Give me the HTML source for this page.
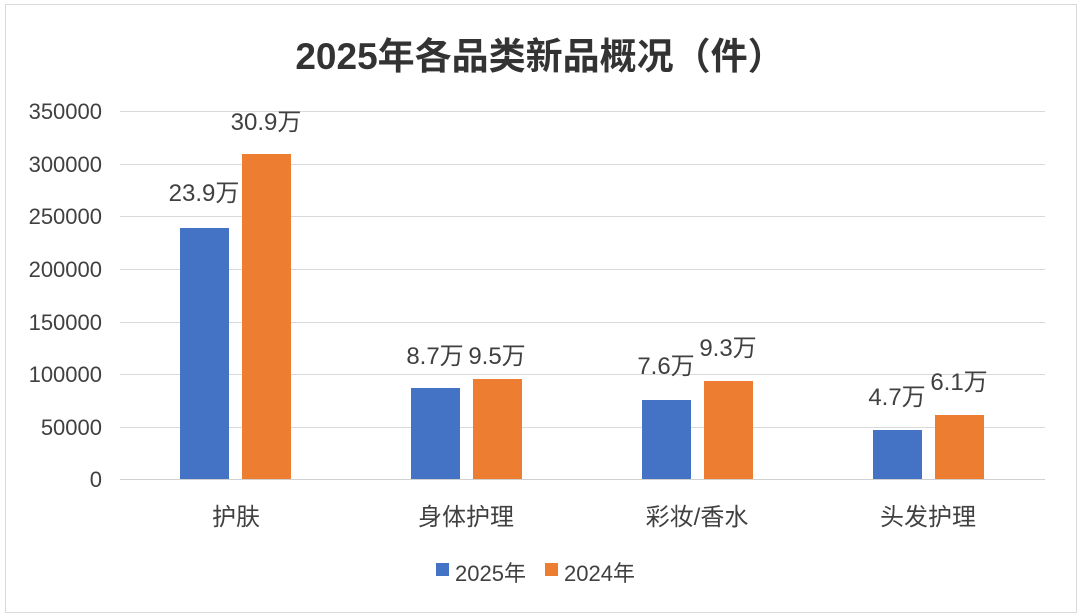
<!DOCTYPE html>
<html><head><meta charset="utf-8"><style>
body{margin:0;width:1080px;height:616px;background:#fff;position:relative;overflow:hidden;font-family:"Liberation Sans","Noto Sans CJK SC",sans-serif;color:#404040}
.a{position:absolute}
.g{position:absolute;left:120px;width:925px;height:1px;background:#d9d9d9}
.yl{position:absolute;right:978px;font-size:22px;line-height:20px;text-align:right}
.b{position:absolute;width:49px}
.bl{background:#4472c4}.or{background:#ed7d31}
.dl{position:absolute;font-size:24px;line-height:24px;width:120px;text-align:center}
.xl{position:absolute;font-size:24px;width:200px;text-align:center;top:497px}
</style></head><body>
<div class="a" style="left:5px;top:4px;width:1070px;height:607px;border:1.5px solid #d9d9d9"></div>
<div class="a" style="left:0;width:1080px;top:26px;text-align:center;font-size:37px;font-weight:bold;color:#333">2025年各品类新品概况（件）</div>
<div class="g" style="top:111px"></div><div class="g" style="top:164px"></div><div class="g" style="top:216px"></div><div class="g" style="top:269px"></div><div class="g" style="top:322px"></div><div class="g" style="top:374px"></div><div class="g" style="top:427px"></div><div class="g" style="top:479px;background:#d0d0d0"></div>
<div class="yl" style="top:102px">350000</div><div class="yl" style="top:155px">300000</div><div class="yl" style="top:207px">250000</div><div class="yl" style="top:260px">200000</div><div class="yl" style="top:313px">150000</div><div class="yl" style="top:365px">100000</div><div class="yl" style="top:418px">50000</div><div class="yl" style="top:470px">0</div>
<div class="b bl" style="left:180px;top:228px;height:251px"></div>
<div class="b or" style="left:242px;top:154px;height:325px"></div>
<div class="b bl" style="left:411px;top:388px;height:91px"></div>
<div class="b or" style="left:473px;top:379px;height:100px"></div>
<div class="b bl" style="left:642px;top:400px;height:79px"></div>
<div class="b or" style="left:704px;top:381px;height:98px"></div>
<div class="b bl" style="left:873px;top:430px;height:49px"></div>
<div class="b or" style="left:935px;top:415px;height:64px"></div>
<div class="dl" style="left:144px;top:182px">23.9万</div>
<div class="dl" style="left:206px;top:111px">30.9万</div>
<div class="dl" style="left:375px;top:345px">8.7万</div>
<div class="dl" style="left:437px;top:345px">9.5万</div>
<div class="dl" style="left:606px;top:355px">7.6万</div>
<div class="dl" style="left:668px;top:337px">9.3万</div>
<div class="dl" style="left:837px;top:386px">4.7万</div>
<div class="dl" style="left:899px;top:371px">6.1万</div>
<div class="xl" style="left:136px">护肤</div>
<div class="xl" style="left:366px">身体护理</div>
<div class="xl" style="left:597px">彩妆/香水</div>
<div class="xl" style="left:828px">头发护理</div>
<div class="a bl" style="left:436px;top:563px;width:13px;height:13px"></div>
<div class="a" style="left:455px;top:556px;font-size:22px">2025年</div>
<div class="a or" style="left:545px;top:563px;width:13px;height:13px"></div>
<div class="a" style="left:564px;top:556px;font-size:22px">2024年</div>
</body></html>
